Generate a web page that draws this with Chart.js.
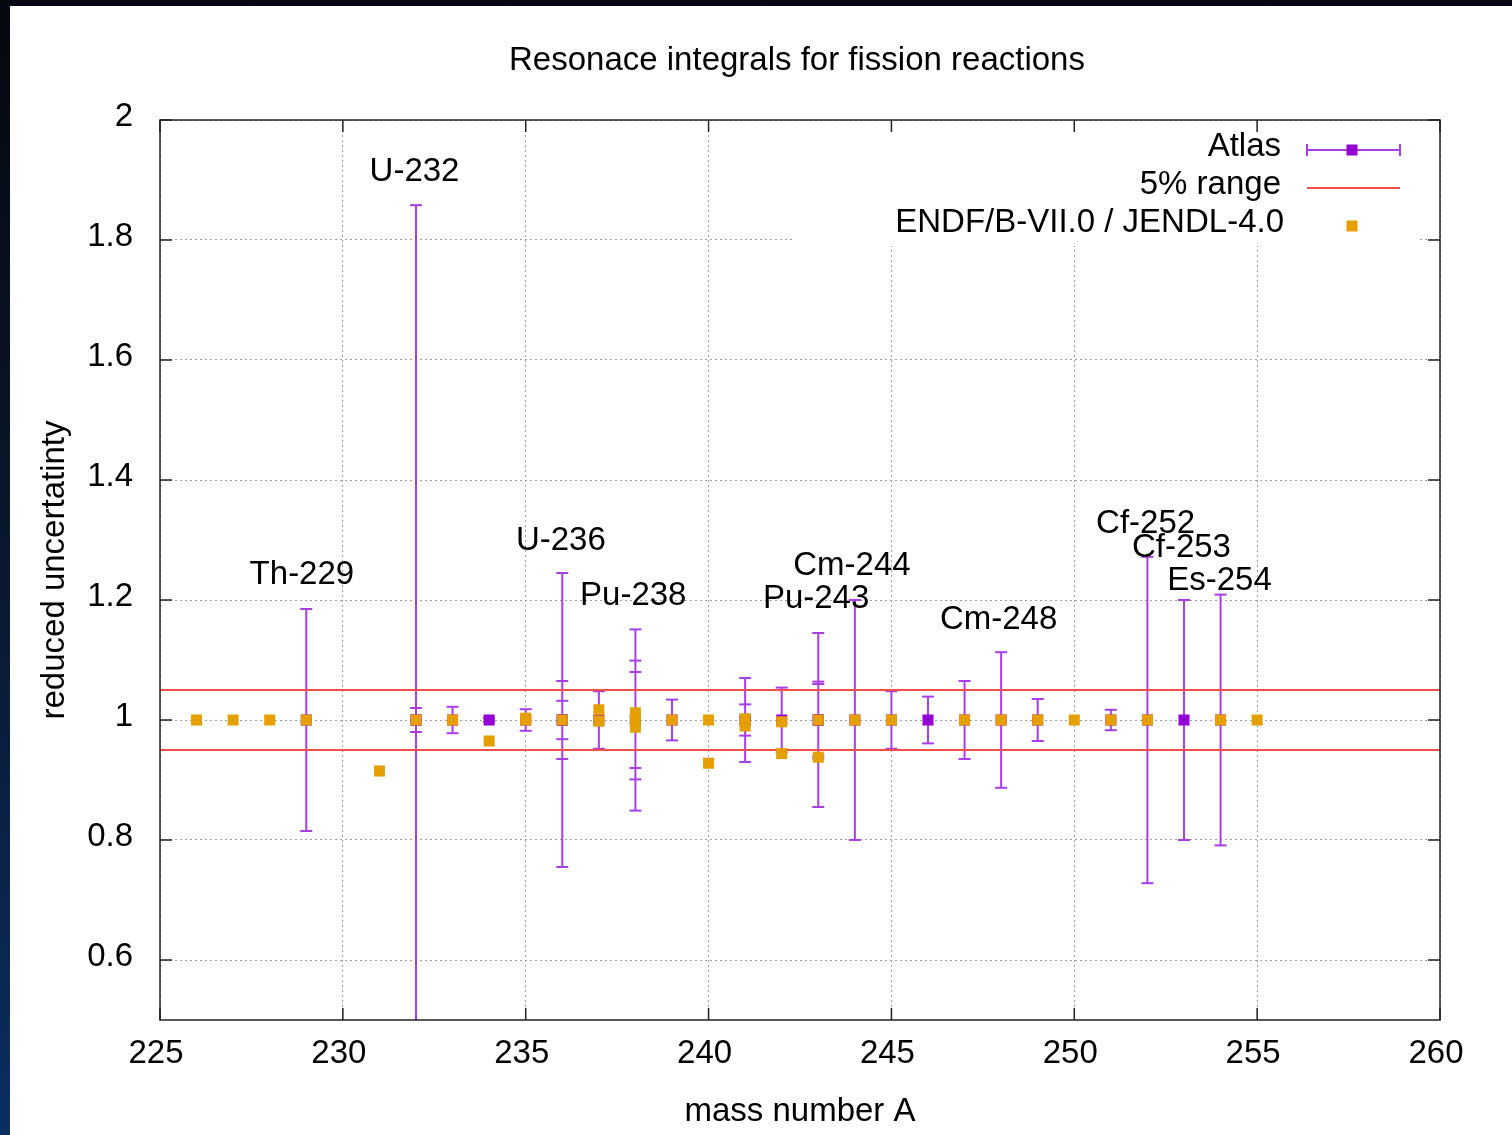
<!DOCTYPE html>
<html>
<head>
<meta charset="utf-8">
<title>Resonace integrals for fission reactions</title>
<script src="https://cdn.jsdelivr.net/npm/chart.js@4.4.1/dist/chart.umd.min.js"></script>
<style>
  html, body { margin: 0; padding: 0; }
  body {
    width: 1512px; height: 1135px; overflow: hidden; position: relative;
    background: linear-gradient(to bottom, #05080f 0%, #0a1a33 55%, #0a2f60 100%);
  }
  #wrap { position: absolute; left: 10px; top: 6px; width: 1502px; height: 1129px; background: #fff; }
</style>
</head>
<body>
<div id="wrap"><canvas id="canvas1"></canvas></div>
<script>
// axis ticks
var xTickVals = [225, 230, 235, 240, 245, 250, 255, 260];
var xTickLabels = ['225', '230', '235', '240', '245', '250', '255', '260'];
var yTickVals = [0.6, 0.8, 1, 1.2, 1.4, 1.6, 1.8, 2];
var yTickLabels = ['0.6', '0.8', '1', '1.2', '1.4', '1.6', '1.8', '2'];

// Atlas: reduced value and relative uncertainty per mass number
var atlasMass  = [229, 232, 232, 233, 234, 235, 236, 236, 236, 237,
                  238, 238, 238, 239, 241, 241, 242, 243, 243, 243,
                  244, 245, 246, 247, 248, 249, 251, 252, 253, 254];
var atlasValue = [1, 1, 1, 1, 1, 1, 1, 1, 1, 1,
                  1, 1, 1, 1, 1, 1, 1, 1, 1, 1,
                  1, 1, 1, 1, 1, 1, 1, 1, 1, 1];
var atlasErr   = [0.185, 0.858, 0.020, 0.022, 0.003, 0.018, 0.245, 0.065, 0.032, 0.048,
                  0.151, 0.099, 0.080, 0.034, 0.070, 0.026, 0.054, 0.145, 0.064, 0.060,
                  0.200, 0.048, 0.039, 0.065, 0.113, 0.035, 0.017, 0.272, 0.200, 0.209];

// ENDF/B-VII.0 / JENDL-4.0 relative to Atlas
var endfMass  = [226, 227, 228, 229, 231, 232, 233, 234, 235, 235,
                 236, 237, 237, 238, 238, 238, 239, 240, 240, 241,
                 241, 242, 242, 243, 243, 244, 245, 247, 248, 249,
                 250, 251, 252, 254, 255];
var endfRatio = [1, 1, 1, 1, 0.915, 1, 1, 0.965, 1, 1.003,
                 1, 0.998, 1.017, 1.012, 1.0, 0.988, 1, 1, 0.928, 1.002,
                 0.990, 0.997, 0.944, 1, 0.938, 1, 1, 1, 1, 1,
                 1, 1, 1, 1, 1];

// 5% range
var rangeX = [225, 260];
var rangeLevels = [1.05, 0.95];

// isotope labels
var isoNames = ['Th-229', 'U-232', 'U-236', 'Pu-238', 'Pu-243', 'Cm-244', 'Cm-248', 'Cf-252', 'Cf-253', 'Es-254'];
var isoX = [228.88, 231.96, 235.96, 237.94, 242.94, 243.92, 247.93, 251.95, 252.93, 253.97];
var isoY = [1.246, 1.918, 1.303, 1.211, 1.206, 1.262, 1.172, 1.331, 1.291, 1.237];

var PURPLE = '#9400d3';
var BAR = '#a93ee6';
var ORANGE = '#e69f00';
var RED = '#ef5048';
var FONT = "'Liberation Sans', Arial, sans-serif";

Chart.defaults.font.family = FONT;
Chart.defaults.font.size = 33;
Chart.defaults.color = '#000';

var endfPts = endfMass.map(function(a, i) { return {x: a, y: endfRatio[i]}; });
var atlasPts = atlasMass.map(function(a, i) { return {x: a, y: atlasValue[i]}; });
var atlasBars = [];
atlasMass.forEach(function(a, i) {
  atlasBars.push({x: a, y: atlasValue[i] - atlasErr[i]});
  atlasBars.push({x: a, y: atlasValue[i] + atlasErr[i]});
  atlasBars.push({x: a, y: null});
});
var rangePts = [];
rangeLevels.forEach(function(lv) {
  rangePts.push({x: rangeX[0], y: lv});
  rangePts.push({x: rangeX[1], y: lv});
  rangePts.push({x: rangeX[1], y: null});
});

// frame, inward ticks, title, key, isotope labels
var decor = {
  id: 'decor',
  beforeDatasetsDraw: function(chart) {
    var ctx = chart.ctx, a = chart.chartArea;
    ctx.save();
    ctx.fillStyle = '#fff';
    ctx.fillRect(a.right - 645, a.top + 1, 623, 125);
    ctx.restore();
  },
  afterDatasetsDraw: function(chart) {
    var ctx = chart.ctx, a = chart.chartArea;
    var xs = chart.scales.x, ys = chart.scales.y;
    ctx.save();
    ctx.strokeStyle = '#222';
    ctx.lineWidth = 1.5;
    ctx.beginPath();
    xTickVals.forEach(function(v) {
      var px = xs.getPixelForValue(v);
      ctx.moveTo(px, a.bottom); ctx.lineTo(px, a.bottom - 12);
      ctx.moveTo(px, a.top); ctx.lineTo(px, a.top + 12);
    });
    yTickVals.forEach(function(v) {
      var py = ys.getPixelForValue(v);
      ctx.moveTo(a.left, py); ctx.lineTo(a.left + 12, py);
      ctx.moveTo(a.right, py); ctx.lineTo(a.right - 12, py);
    });
    ctx.stroke();
    ctx.strokeRect(a.left, a.top, a.right - a.left, a.bottom - a.top);

    ctx.fillStyle = '#000';
    ctx.font = '33px ' + FONT;
    ctx.textBaseline = 'alphabetic';

    // title
    ctx.textAlign = 'center';
    ctx.fillText('Resonace integrals for fission reactions', (a.left + a.right) / 2 - 3, a.top - 50);

    // isotope labels
    isoNames.forEach(function(n, i) {
      ctx.fillText(n, xs.getPixelForValue(isoX[i]), ys.getPixelForValue(isoY[i]) + 12);
    });

    // key
    var tx = a.right - 159, s0 = a.right - 133, s1 = a.right - 40, sc = a.right - 88;
    var r1 = a.top + 30, r2 = a.top + 68, r3 = a.top + 106;
    ctx.textAlign = 'right';
    ctx.fillText('Atlas', tx, r1 + 6);
    ctx.fillText('5% range', tx, r2 + 6);
    ctx.fillText('ENDF/B-VII.0 / JENDL-4.0', tx + 3, r3 + 6);

    ctx.strokeStyle = BAR;
    ctx.lineWidth = 2;
    ctx.beginPath();
    ctx.moveTo(s0, r1); ctx.lineTo(s1, r1);
    ctx.moveTo(s0, r1 - 6); ctx.lineTo(s0, r1 + 6);
    ctx.moveTo(s1, r1 - 6); ctx.lineTo(s1, r1 + 6);
    ctx.stroke();
    ctx.fillStyle = PURPLE;
    ctx.fillRect(sc - 5.5, r1 - 5.5, 11, 11);

    ctx.strokeStyle = RED;
    ctx.beginPath();
    ctx.moveTo(s0, r2); ctx.lineTo(s1, r2);
    ctx.stroke();

    ctx.fillStyle = ORANGE;
    ctx.fillRect(sc - 5.5, r3 - 5.5, 11, 11);
    ctx.restore();
  }
};

var ctx = document.getElementById('canvas1').getContext('2d');
window.myChart = new Chart(ctx, {
  type: 'scatter',
  data: {
    datasets: [{
      label: 'ENDF/B-VII.0 / JENDL-4.0',
      data: endfPts,
      order: 0,
      pointStyle: 'rect',
      pointRadius: 7.8,
      pointBackgroundColor: ORANGE,
      pointBorderWidth: 0
    }, {
      type: 'line',
      label: '5% range',
      data: rangePts,
      order: 1,
      borderColor: RED,
      borderWidth: 2,
      pointRadius: 0,
      spanGaps: false,
      tension: 0
    }, {
      label: 'Atlas',
      data: atlasPts,
      order: 2,
      pointStyle: 'rect',
      pointRadius: 7.8,
      pointBackgroundColor: PURPLE,
      pointBorderWidth: 0
    }, {
      type: 'line',
      label: 'Atlas errors',
      data: atlasBars,
      order: 3,
      borderColor: BAR,
      borderWidth: 2,
      spanGaps: false,
      tension: 0,
      pointStyle: 'line',
      pointRadius: 6,
      pointBorderColor: BAR,
      pointBorderWidth: 2
    }]
  },
  options: {
    responsive: true,
    maintainAspectRatio: false,
    animation: false,
    events: [],
    layout: { padding: { left: 0, top: 114, right: 72, bottom: 0 } },
    plugins: {
      legend: { display: false },
      title: { display: false },
      tooltip: { enabled: false }
    },
    scales: {
      x: {
        type: 'linear',
        position: 'bottom',
        min: 225,
        max: 260,
        afterBuildTicks: function(s) { s.ticks = xTickVals.map(function(v) { return {value: v}; }); },
        afterFit: function(s) { s.height = 115; },
        ticks: {
          padding: 14,
          labelOffset: -4,
          maxRotation: 0,
          autoSkip: false,
          callback: function(v, i) { return xTickLabels[i]; }
        },
        grid: { color: '#a0a0a0', lineWidth: 1, drawTicks: false },
        border: { display: false, dash: [2, 3] },
        title: { display: true, text: 'mass number A', padding: { top: 0, bottom: 3 } }
      },
      y: {
        type: 'linear',
        position: 'left',
        min: 0.5,
        max: 2,
        afterBuildTicks: function(s) { s.ticks = yTickVals.map(function(v) { return {value: v}; }); },
        afterFit: function(s) { s.width = 150; },
        ticks: {
          padding: 27,
          labelOffset: -3,
          autoSkip: false,
          callback: function(v, i) { return yTickLabels[i]; }
        },
        grid: { color: '#a0a0a0', lineWidth: 1, drawTicks: false },
        border: { display: false, dash: [2, 3] },
        title: { display: true, text: 'reduced uncertatinty', padding: { top: 25, bottom: 0 } }
      }
    }
  },
  plugins: [decor]
});
</script>
</body>
</html>
